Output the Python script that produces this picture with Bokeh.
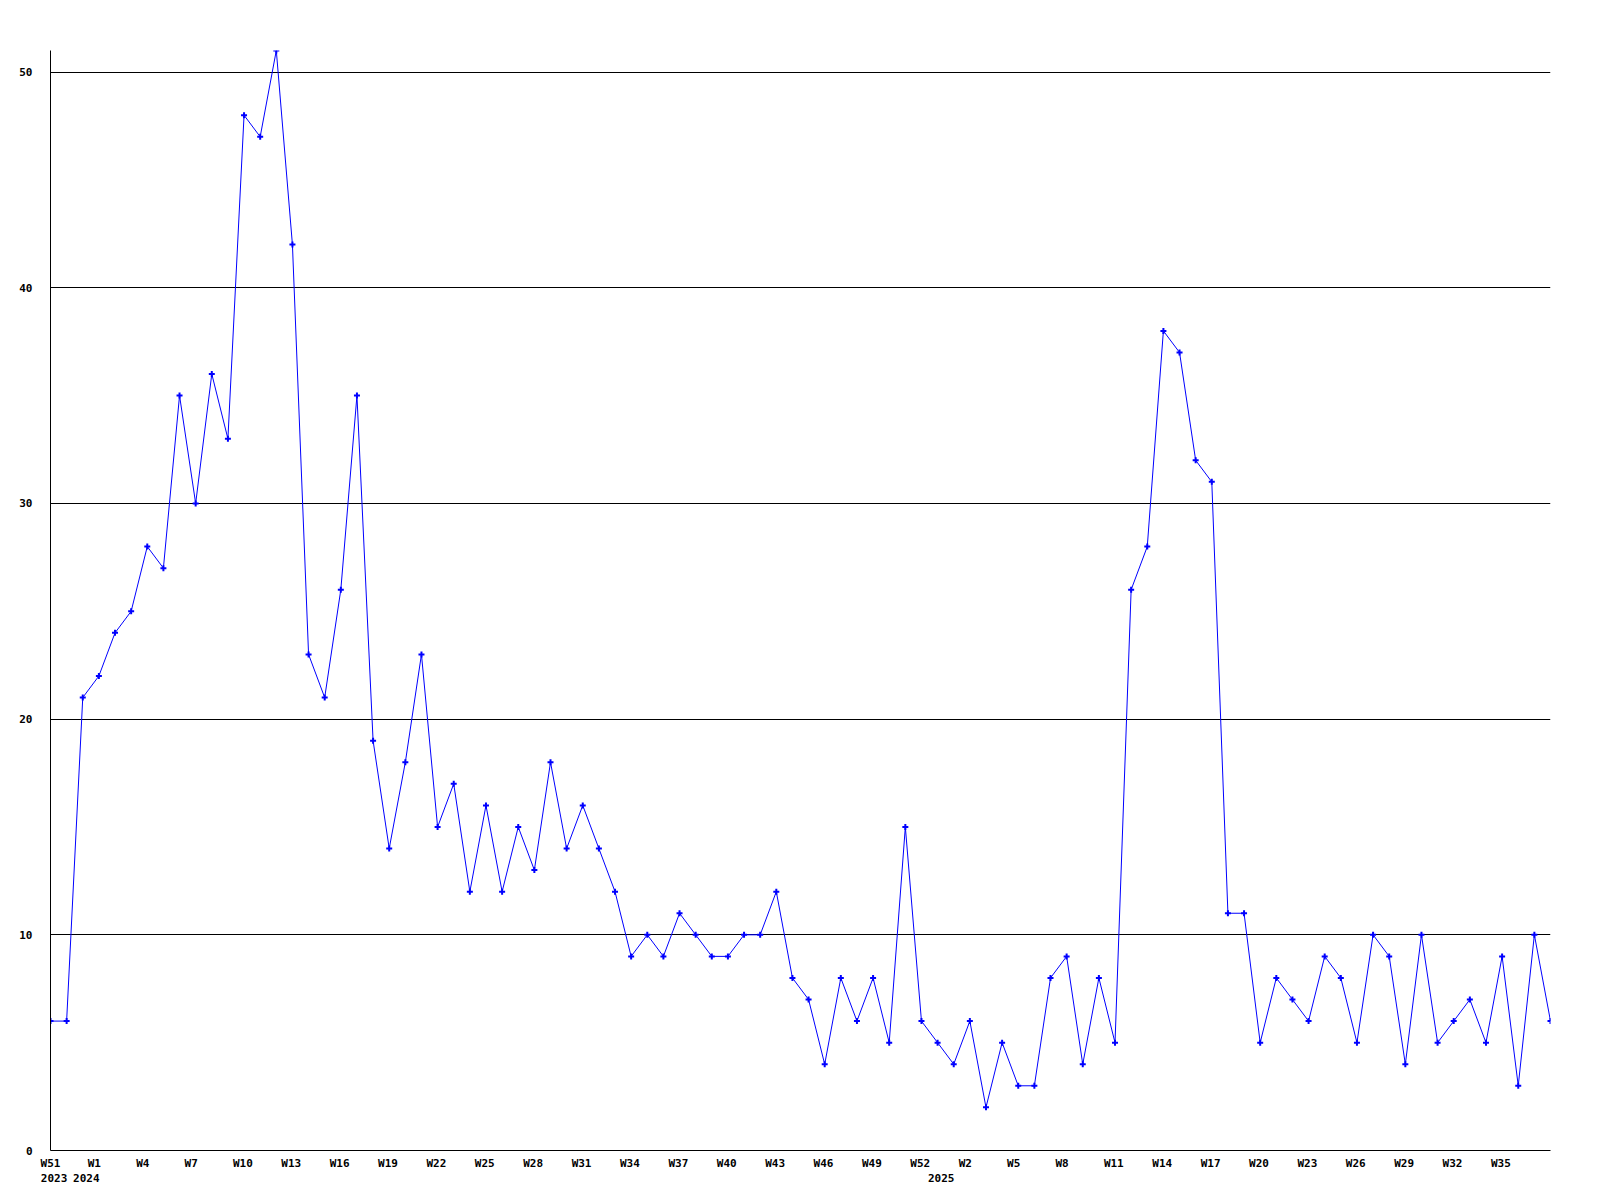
from bokeh.plotting import figure
from bokeh.models import Range1d, FixedTicker, ColumnDataSource, LinearAxis
from bokeh.embed import file_html
from bokeh.resources import INLINE

# ---- data (weekly counts, 2023 W51 .. 2025 W39) ----
values = [6, 6, 21, 22, 24, 25, 28, 27, 35, 30, 36, 33, 48, 47, 51, 42, 23, 21, 26, 35,
          19, 14, 18, 23, 15, 17, 12, 16, 12, 15, 13, 18, 14, 16, 14, 12, 9, 10, 9, 11,
          10, 9, 9, 10, 10, 12, 8, 7, 4, 8, 6, 8, 5, 15, 6, 5, 4, 6, 2, 5,
          3, 3, 8, 9, 4, 8, 5, 26, 28, 38, 37, 32, 31, 11, 11, 5, 8, 7, 6, 9,
          8, 5, 10, 9, 4, 10, 5, 6, 7, 5, 9, 3, 10, 6]
x_index = list(range(len(values)))

week_tick_labels = ["W51", "W1", "W4", "W7", "W10", "W13", "W16", "W19", "W22", "W25",
                    "W28", "W31", "W34", "W37", "W40", "W43", "W46", "W49", "W52",
                    "W2", "W5", "W8", "W11", "W14", "W17", "W20", "W23", "W26", "W29",
                    "W32", "W35"]
week_tick_index = [0] + list(range(2, 90, 3))

year_labels = ["2023", "2024", "2025"]
year_index = [0, 2, 55]

y_ticks = [0, 10, 20, 30, 40, 50]

# ---- layout ----
W, H = 1584, 1184
ML, MT = 50, 50
FW, FH = 1500, 1100
MR, MB = W - ML - FW, H - MT - FH
ymax = max(values)
ppx = FW / (len(values) - 1)
CHAR_W = 6.62
FONT = "DejaVu Sans Mono"
FSIZE = "11px"

p = figure(width=W, height=H, x_range=Range1d(0, len(values) - 1), y_range=Range1d(0, ymax),
           output_backend="svg", toolbar_location=None,
           x_axis_location=None, y_axis_location=None,
           min_border_left=ML, min_border_right=MR, min_border_top=MT, min_border_bottom=MB)
p.outline_line_color = None
p.background_fill_color = "white"
p.border_fill_color = "white"


def style(ax, line=True):
    ax.axis_line_color = "black" if line else None
    ax.axis_line_width = 1
    ax.major_tick_line_color = None
    ax.minor_tick_line_color = None
    ax.major_tick_out = 0
    ax.major_tick_in = 0
    ax.minor_tick_out = 0
    ax.minor_tick_in = 0
    ax.major_label_text_font = FONT
    ax.major_label_text_font_style = "bold"
    ax.major_label_text_font_size = FSIZE
    ax.major_label_text_color = "black"


# week axis: labels left-aligned 5px right of their week (first one centered)
wk_pos = [week_tick_index[0]] + [i + (5 + CHAR_W * len(t) / 2) / ppx
                                 for i, t in zip(week_tick_index[1:], week_tick_labels[1:])]
xa = LinearAxis(ticker=FixedTicker(ticks=wk_pos),
                major_label_overrides={pos: t for pos, t in zip(wk_pos, week_tick_labels)})
style(xa)
xa.major_label_standoff = 6
p.add_layout(xa, "below")

# year axis
yr_pos = [i + 3.6 / ppx for i in year_index]
ya_year = LinearAxis(ticker=FixedTicker(ticks=yr_pos),
                     major_label_overrides={pos: t for pos, t in zip(yr_pos, year_labels)})
style(ya_year, line=False)
ya_year.major_label_standoff = 1
p.add_layout(ya_year, "below")

# y axis
yax = LinearAxis(ticker=FixedTicker(ticks=y_ticks))
style(yax)
yax.major_label_standoff = 18
yax.major_label_text_align = "left"
p.add_layout(yax, "left")

p.xgrid.visible = False
p.ygrid.ticker = FixedTicker(ticks=y_ticks[1:])
p.ygrid.grid_line_color = "black"
p.ygrid.grid_line_alpha = 1.0
p.ygrid.grid_line_width = 1

src = ColumnDataSource(dict(x=x_index, y=values))
p.line("x", "y", source=src, line_color="#0000ff", line_width=1)
p.scatter("x", "y", source=src, marker="cross", size=6, line_color="#0000ff", line_width=2)

open("out.html", "w").write(file_html(p, INLINE))
